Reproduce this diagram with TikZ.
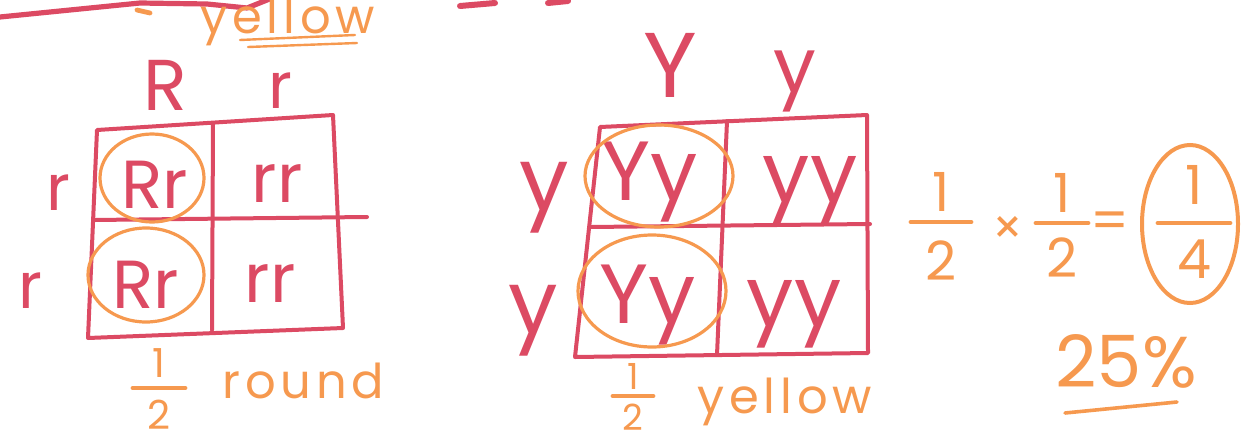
\documentclass[tikz,border=0pt]{standalone}
\usepackage{fontspec}
\setmainfont{Poppins}
\newfontfamily\notefont[LetterSpace=10]{Poppins}
\usetikzlibrary{positioning}
\definecolor{ink}{HTML}{DC4A63}
\definecolor{hilite}{HTML}{F6994F}
\tikzset{
  grid/.style={ink,line width=2pt,line join=round,line cap=round},
  allele/.style={ink,anchor=base,inner sep=0pt,font=\fontsize{#1}{#1}\selectfont},
  geno/.style={ink,anchor=base,inner sep=0pt,font=\fontsize{#1}{#1}\selectfont},
  ring/.style={hilite,line width=1.6pt},
  note/.style={hilite,anchor=base west,inner sep=0pt,font=\notefont\fontsize{24}{24}\selectfont},
  digit/.style={hilite,inner sep=0pt,font=\fontsize{#1}{#1}\selectfont},
  bar/.style={hilite,line width=2.4pt,line cap=round},
}

\begin{document}
\begin{tikzpicture}[x=0.5pt,y=-0.5pt]
\useasboundingbox (0,0) rectangle (1241,445);
\clip (0,0) rectangle (1241,445);

% bits cut off at the top edge
\draw[grid,line width=2.6pt] (0,17) -- (140,3) -- (207,4) -- (247,8) -- (272,-2);
\draw[bar] (137,10) -- (150,13);
\node[note] (topnote) at (200,33) {yellow};
\draw[bar,line width=1.2pt] (240,40) -- (355,35);
\draw[bar,line width=1.2pt] (248,47) -- (357,43);
\draw[grid,line width=3pt] (460,6) -- (495,3);
\draw[grid,line width=3pt] (548,3) -- (568,1);

% round / wrinkled square
\coordinate (l1) at (97,130); \coordinate (l2) at (213,124); \coordinate (l3) at (333,115);
\coordinate (l4) at (88,338); \coordinate (l5) at (212,330); \coordinate (l6) at (343,328);
\draw[grid] (l1) -- (l3) -- (l6) -- (l4) -- cycle;
\draw[grid] (l2) -- (l5);
\draw[grid] (93,220) -- (367,217);
\node[allele=36] (lR) at (165,110) {R};
\node[allele=32] (lr) at (280,108) {r};
\node[allele=32] (lrow1) at (58,210) {r};
\node[allele=32] (lrow2) at (30,308) {r};
\node[geno=34] (lc1) at (155,208) {Rr};
\node[geno=34] (lc2) at (277,202) {rr};
\node[geno=34] (lc3) at (146,308) {Rr};
\node[geno=34] (lc4) at (270,302) {rr};
\draw[ring] (152,178) ellipse [x radius=52,y radius=44];
\draw[ring] (146,275) ellipse [x radius=58,y radius=47];
\coordinate (h1) at (159,388);
\draw[bar] ([xshift=-13pt]h1) -- ([xshift=13pt]h1);
\node[digit=20,above=5pt of h1] (h1n) {1};
\node[digit=20,below=6pt of h1] (h1d) {2};
\node[note] (round) at (222,398) {round};

% yellow / green square
\coordinate (m1) at (600,127); \coordinate (m2) at (727,121); \coordinate (m3) at (867,115);
\coordinate (m4) at (575,357); \coordinate (m5) at (717,355); \coordinate (m6) at (868,353);
\draw[grid] (m1) -- (m3) -- (m6) -- (m4) -- cycle;
\draw[grid] (m2) -- (m5);
\draw[grid] (590,227) -- (870,224);
\node[allele=46] (mY) at (670,97) {Y};
\node[allele=38] (my) at (795,92) {y};
\node[allele=44] (mrow1) at (544,210) {y};
\node[allele=44] (mrow2) at (533,333) {y};
\node[geno=42] (mc1) at (650,200) {Yy};
\node[geno=42] (mc2) at (810,202) {yy};
\node[geno=42] (mc3) at (648,323) {Yy};
\node[geno=42] (mc4) at (794,326) {yy};
\draw[ring] (659,176) ellipse [x radius=74,y radius=51];
\draw[ring] (652,291) ellipse [x radius=74,y radius=56];
\coordinate (h2) at (633,396);
\draw[bar] ([xshift=-10pt]h2) -- ([xshift=10pt]h2);
\node[digit=18,above=3pt of h2] (h2n) {1};
\node[digit=18,below=4pt of h2] (h2d) {2};
\node[note] (yellow) at (697,413) {yellow};

% product of the two halves
\coordinate (h3) at (941,222);
\draw[bar] ([xshift=-15pt]h3) -- ([xshift=15pt]h3);
\node[digit=27,above=5pt of h3] (h3n) {1};
\node[digit=27,below=9pt of h3] (h3d) {2};
\node[digit=24] (times) at (1008,230) {×};
\coordinate (h4) at (1062,223);
\draw[bar] ([xshift=-13pt]h4) -- ([xshift=13pt]h4);
\node[digit=27,above=5pt of h4] (h4n) {1};
\node[digit=27,below=7pt of h4] (h4d) {2};
\node[digit=27] (equals) at (1110,226) {=};
\coordinate (h5) at (1194,223);
\draw[bar] ([xshift=-18pt]h5) -- ([xshift=18pt]h5);
\node[digit=27,above=9pt of h5] (h5n) {1};
\node[digit=27,below=8pt of h5] (h5d) {4};
\draw[ring,line width=2pt] (1190,224) ellipse [x radius=48,y radius=79];
\node[digit=36,anchor=base] (pct) at (1126,387) {25\%};
\draw[bar,line width=1.8pt] (1065,413) -- (1177,402);
\end{tikzpicture}
\end{document}
